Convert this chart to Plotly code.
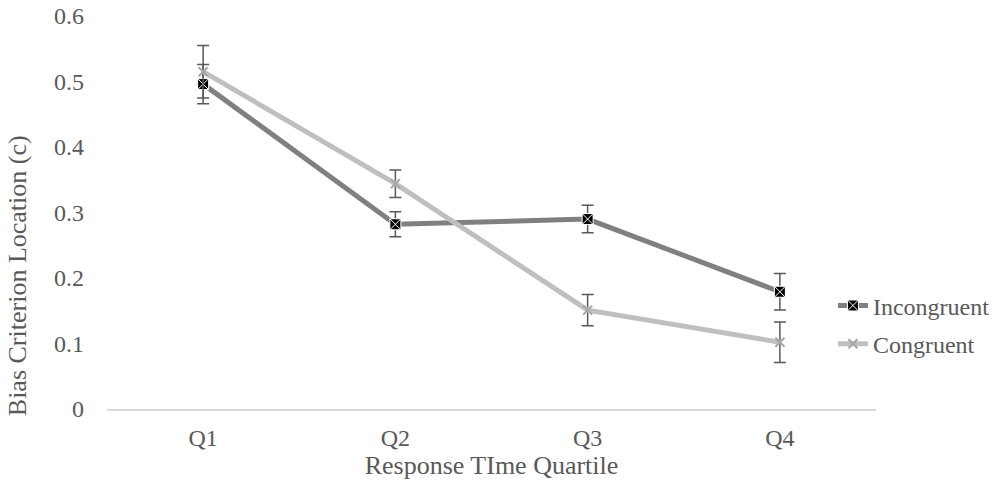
import plotly.graph_objects as go

categories = ["Q1", "Q2", "Q3", "Q4"]
incongruent = [0.496, 0.282, 0.290, 0.179]
incongruent_err = [0.030, 0.019, 0.021, 0.028]
congruent = [0.515, 0.344, 0.151, 0.102]
congruent_err = [0.040, 0.021, 0.024, 0.031]
y_ticks = [0, 0.1, 0.2, 0.3, 0.4, 0.5, 0.6]
y_tick_labels = ["0", "0.1", "0.2", "0.3", "0.4", "0.5", "0.6"]

FONT = "Liberation Serif"
TXT = "#595959"

fig = go.Figure()
fig.add_trace(go.Scatter(
    x=categories, y=incongruent, name="Incongruent", mode="lines+markers",
    legendgroup="a",
    line=dict(color="#808080", width=5),
    marker=dict(symbol="square-x", size=11, color="black",
                line=dict(color="white", width=1)),
    error_y=dict(type="data", array=incongruent_err, visible=True,
                 color="#595959", thickness=1.5, width=6),
))
fig.add_trace(go.Scatter(
    x=categories, y=congruent, name="Congruent", mode="lines+markers",
    legendgroup="b",
    line=dict(color="#bfbfbf", width=5),
    marker=dict(symbol="x-thin", size=9, color="#a6a6a6",
                line=dict(color="#a6a6a6", width=2)),
    error_y=dict(type="data", array=congruent_err, visible=True,
                 color="#595959", thickness=1.5, width=6),
))

fig.update_layout(
    width=992, height=484,
    margin=dict(l=107, r=116, t=16, b=75, autoexpand=False),
    paper_bgcolor="white", plot_bgcolor="white",
    font=dict(family=FONT, size=24, color=TXT),
    legend=dict(x=0.944, y=0.214, xanchor="left", yanchor="middle",
                bgcolor="rgba(0,0,0,0)", tracegroupgap=4,
                font=dict(family=FONT, size=24, color=TXT)),
    xaxis=dict(
        type="category", range=[-0.5, 3.5], automargin=False,
        showline=True, linecolor="#d9d9d9", linewidth=1.5,
        showgrid=False, ticks="", ticklabelstandoff=6,
        title=dict(text="Response TIme Quartile", standoff=0,
                   font=dict(family=FONT, size=26, color=TXT)),
    ),
    yaxis=dict(
        range=[0, 0.6], tickvals=y_ticks, ticktext=y_tick_labels,
        automargin=False,
        showgrid=False, zeroline=False, showline=False, ticks="",
        ticklabelstandoff=22,
    ),
    annotations=[dict(
        text="Bias Criterion Location (c)", textangle=-90,
        xref="paper", yref="paper", x=-0.117, y=0.338,
        xanchor="center", yanchor="middle", showarrow=False,
        font=dict(family=FONT, size=26, color=TXT),
    )],
)

fig.write_html("out.html", config={"displayModeBar": False},
               post_script="document.body.style.margin='0';")
